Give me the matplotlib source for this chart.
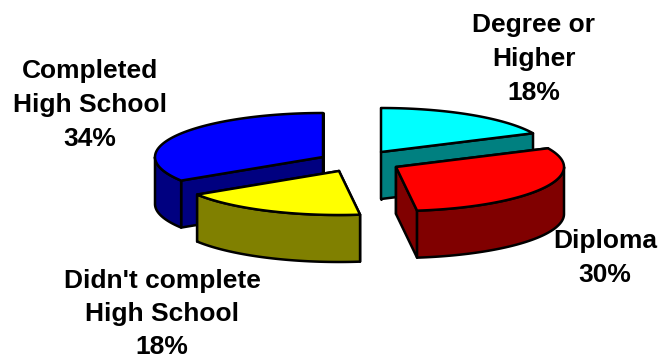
import numpy as np
import matplotlib
matplotlib.use("Agg")
import matplotlib.pyplot as plt
from matplotlib.patches import Polygon

labels = ["Degree or\nHigher\n18%", "Diploma\n30%", "Didn't complete\nHigh School\n18%", "Completed\nHigh School\n34%"]
values = [18, 30, 18, 34]
top_colors = ["#00ffff", "#ff0000", "#ffff00", "#0000ff"]
side_colors = ["#008080", "#800000", "#808000", "#000080"]
# slice apex in pixels, exploded pie
apex_x = [381, 396, 339, 323]
apex_y = [152, 167, 171, 157]
label_x = [534, 605, 162, 90]
label_y = [59, 258, 314, 105]
label_spacing = [1.52, 1.52, 1.48, 1.52]

rx = 168
ry = 44
depth = 47
lw = 1.8

fig = plt.figure(figsize=(6.59, 3.6), dpi=100)
ax = fig.add_axes([0, 0, 1, 1])
ax.set_xlim(0, 659)
ax.set_ylim(360, 0)
ax.axis("off")


def ell(cx, cy, ang):
    return cx + rx * np.sin(ang), cy - ry * np.cos(ang)


def add_poly(xs, ys, color, z):
    ax.add_patch(Polygon(np.column_stack([xs, ys]), closed=True, facecolor=color,
                         edgecolor="black", lw=lw, joinstyle="round", zorder=z))


edges = np.radians(np.cumsum([0] + values) * 3.6)
# cyan then blue go behind, red and yellow sit in front of them
base_z = [1, 10, 10, 1]

for i in range(len(values)):
    cx, cy = apex_x[i], apex_y[i]
    a0, a1 = edges[i], edges[i + 1]
    z = base_z[i]

    # radial walls
    for a in (a0, a1):
        ex, ey = ell(cx, cy, a)
        add_poly([cx, ex, ex, cx], [cy, ey, ey + depth, cy + depth], side_colors[i], z)

    # outer rim, only the part facing the viewer
    r0, r1 = max(a0, np.pi / 2), min(a1, 3 * np.pi / 2)
    if r1 > r0:
        t = np.linspace(r0, r1, 80)
        rim_x, rim_y = ell(cx, cy, t)
        add_poly(np.r_[rim_x, rim_x[::-1]], np.r_[rim_y, rim_y[::-1] + depth], side_colors[i], z + 1)

    # top face
    t = np.linspace(a0, a1, 120)
    top_x, top_y = ell(cx, cy, t)
    add_poly(np.r_[cx, top_x], np.r_[cy, top_y], top_colors[i], z + 2)

for i in range(len(labels)):
    ax.text(label_x[i], label_y[i], labels[i], family="Liberation Sans", fontweight="bold",
            fontsize=19, ha="center", va="center", multialignment="center",
            linespacing=label_spacing[i], color="black", zorder=20)

fig.savefig("out.png", dpi=100, facecolor="white")
